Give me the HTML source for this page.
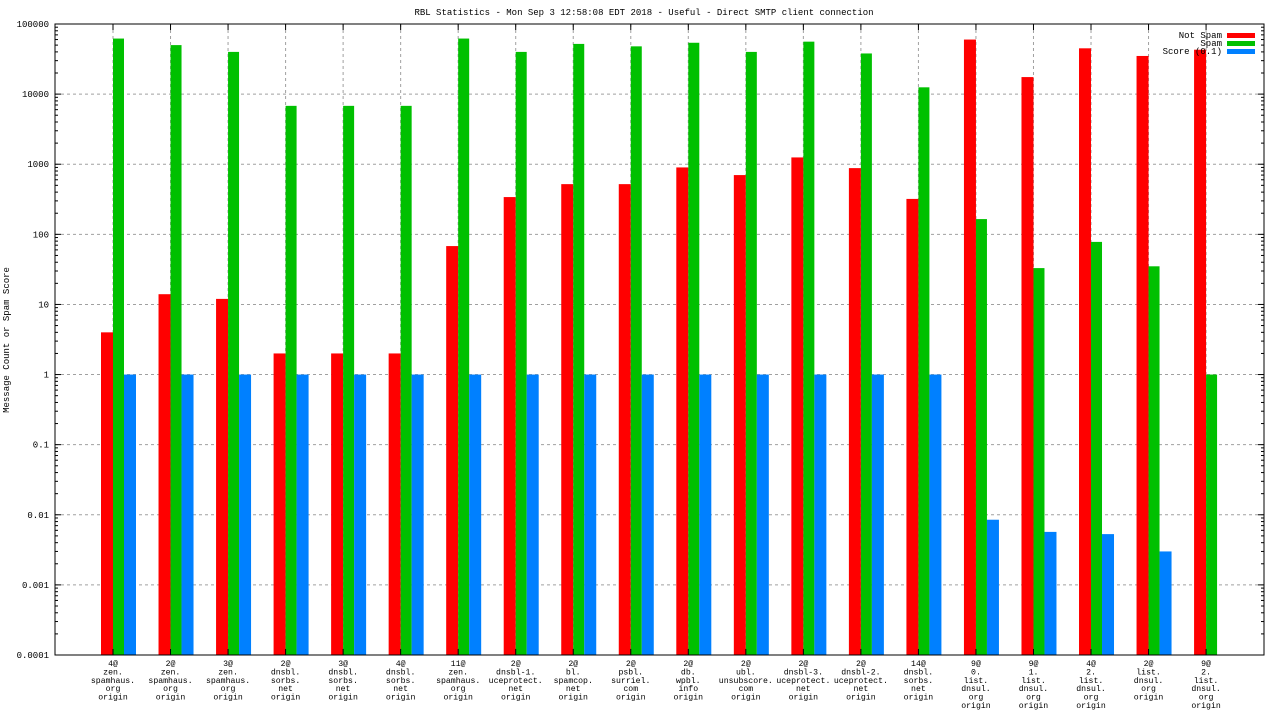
<!DOCTYPE html>
<html><head><meta charset="utf-8"><style>
body{margin:0;background:#fff;}
svg text{font-family:"Liberation Mono","DejaVu Sans Mono",monospace;font-size:9px;fill:#000;}
svg #xl text{font-size:8.2px;}
</style></head><body>
<svg id="chart" width="1280" height="720" xmlns="http://www.w3.org/2000/svg">
<text x="644" y="15" text-anchor="middle">RBL Statistics - Mon Sep  3 12:58:08 EDT 2018 - Useful - Direct SMTP client connection</text>
<text transform="translate(9,340) rotate(-90)" text-anchor="middle">Message Count or Spam Score</text>
<g id="grid"></g><g id="bars"></g><g id="axes"></g><g id="xl"></g>
<g>
<text x="1222" y="38" text-anchor="end">Not Spam</text><rect x="1227" y="33" width="28" height="5" fill="#ff0000"/>
<text x="1222" y="46" text-anchor="end">Spam</text><rect x="1227" y="41" width="28" height="5" fill="#00c000"/>
<text x="1222" y="54" text-anchor="end">Score (0.1)</text><rect x="1227" y="49" width="28" height="5" fill="#0080ff"/>
</g>
</svg>
<script>
const categories=[["4@","zen.","spamhaus.","org","origin"],["2@","zen.","spamhaus.","org","origin"],["3@","zen.","spamhaus.","org","origin"],["2@","dnsbl.","sorbs.","net","origin"],["3@","dnsbl.","sorbs.","net","origin"],["4@","dnsbl.","sorbs.","net","origin"],["11@","zen.","spamhaus.","org","origin"],["2@","dnsbl-1.","uceprotect.","net","origin"],["2@","bl.","spamcop.","net","origin"],["2@","psbl.","surriel.","com","origin"],["2@","db.","wpbl.","info","origin"],["2@","ubl.","unsubscore.","com","origin"],["2@","dnsbl-3.","uceprotect.","net","origin"],["2@","dnsbl-2.","uceprotect.","net","origin"],["14@","dnsbl.","sorbs.","net","origin"],["9@","0.","list.","dnsul.","org","origin"],["9@","1.","list.","dnsul.","org","origin"],["4@","2.","list.","dnsul.","org","origin"],["2@","list.","dnsul.","org","origin"],["9@","2.","list.","dnsul.","org","origin"]];
const notSpam=[4,14,12,2,2,2,68,340,520,520,900,700,1250,880,320,60000,17500,45000,35000,43000];
const spam=[62000,50000,40000,6800,6800,6800,62000,40000,52000,48000,54000,40000,56000,38000,12500,165,33,78,35,1];
const score=[1,1,1,1,1,1,1,1,1,1,1,1,1,1,1,0.0085,0.0057,0.0053,0.003,null];
const yTicks=["0.0001","0.001","0.01","0.1","1","10","100","1000","10000","100000"];
const NS="http://www.w3.org/2000/svg";
const L=55,R=1264,T=24,B=655;
const y=v=>B-(Math.log10(v)+4)/9*(B-T);
const x=i=>113+i*57.53;
function mk(p,t,a){const e=document.createElementNS(NS,t);for(const k in a)e.setAttribute(k,a[k]);document.getElementById(p).appendChild(e);return e;}
yTicks.forEach(t=>{const v=parseFloat(t),yy=y(v);
 if(v>0.0001&&v<100000){const g=mk("grid","line",{x1:L,x2:R,y1:yy,y2:yy,stroke:"#a0a0a0","stroke-dasharray":"3,3"});}
 const tx=mk("axes","text",{x:49,y:yy+3,"text-anchor":"end"});tx.textContent=t;
 mk("axes","line",{x1:L,x2:L+6,y1:yy,y2:yy,stroke:"#000"});mk("axes","line",{x1:R,x2:R-6,y1:yy,y2:yy,stroke:"#000"});
 if(v<100000)for(let m=2;m<10;m++){const ym=y(v*m);mk("axes","line",{x1:L,x2:L+3,y1:ym,y2:ym,stroke:"#000"});mk("axes","line",{x1:R,x2:R-3,y1:ym,y2:ym,stroke:"#000"});}
});
categories.forEach((c,i)=>{const cx=x(i);
 const g=mk("grid","line",{x1:cx,x2:cx,y1:T,y2:B,stroke:"#a0a0a0","stroke-dasharray":"3,3"});
 mk("axes","line",{x1:cx,x2:cx,y1:B,y2:B-6,stroke:"#000"});mk("axes","line",{x1:cx,x2:cx,y1:T,y2:T+6,stroke:"#000"});
 const series=[[notSpam[i],cx-12,12,"#ff0000","bar-not-spam"],[spam[i],cx,11,"#00c000","bar-spam"],[score[i],cx+11,12,"#0080ff","bar-score"]];
 series.forEach(s=>{if(s[0]==null)return;const yy=y(s[0]);const r=mk("bars","rect",{x:s[1],y:yy,width:s[2],height:B-yy,fill:s[3]});});
 c.forEach((ln,j)=>{const t=mk("xl","text",{x:cx,y:666+j*8.4,"text-anchor":"middle"});t.textContent=ln;});
});
const fr=mk("axes","rect",{x:L,y:T,width:R-L,height:B-T,fill:"none",stroke:"#000"});

</script>
</body></html>
